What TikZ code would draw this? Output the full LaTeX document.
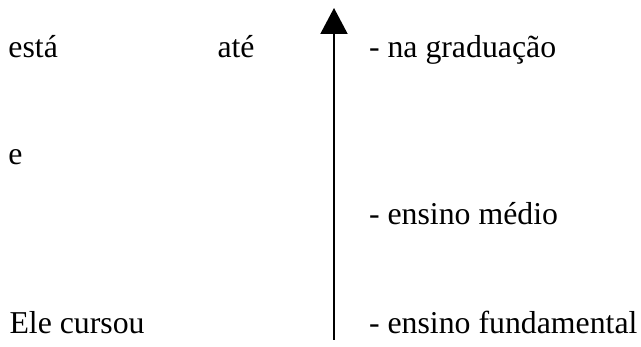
\documentclass[tikz,border=0pt]{standalone}
\usepackage{fontspec}
\setmainfont{Liberation Serif}
\usetikzlibrary{arrows.meta}
\begin{document}
\begin{tikzpicture}[x=1pt,y=1pt,
  lbl/.style={anchor=base west,inner sep=0pt,outer sep=0pt,
    font=\fontsize{31.8}{38}\selectfont},
  axis/.style={line width=2pt,-{Triangle[width=27pt,length=26pt]}}]
  \useasboundingbox (0,0) rectangle (641,347);
  % left column
  \node[lbl] (esta) at (8.5,289) {está};
  \node[lbl] (ate)  at (217.5,289) {até};
  \node[lbl] (e)    at (8.5,182) {e};
  \node[lbl] (ele)  at (9.5,13) {Ele cursou};
  % vertical axis
  \coordinate (base) at (334,7);
  \coordinate (top)  at (334,339);
  \draw[axis] (base) -- (top);
  % right column
  \node[lbl] (grad) at (369,289) {- na graduação};
  \node[lbl] (med)  at (369,122) {- ensino médio};
  \node[lbl] (fund) at (369,13)  {- ensino fundamental};
\end{tikzpicture}
\end{document}
